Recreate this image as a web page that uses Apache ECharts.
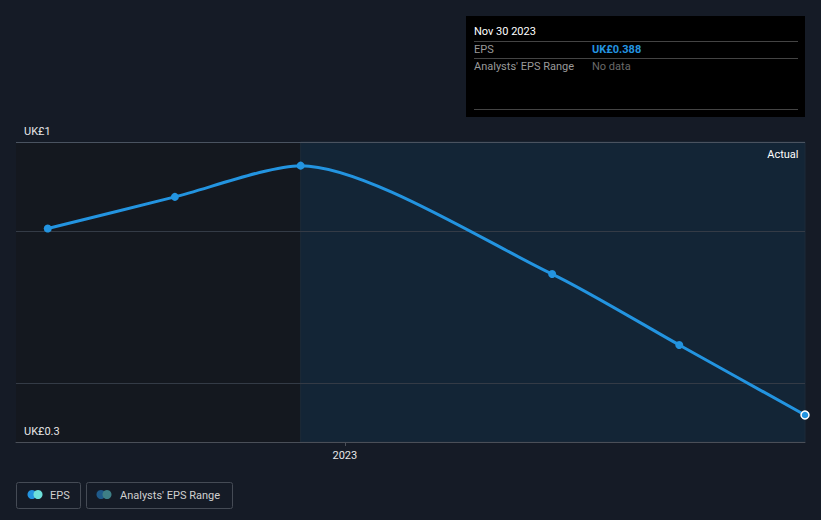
<!DOCTYPE html>
<html>
<head>
<meta charset="utf-8">
<script src="https://cdn.jsdelivr.net/npm/echarts@6/dist/echarts.min.js"></script>
<style>
  html, body { margin: 0; padding: 0; background: #151b26; }
  #main { width: 821px; height: 520px; }
</style>
</head>
<body>
<div id="main"></div>
<script>
// data
var dates = ['2022-05-31', '2022-08-31', '2022-11-30', '2023-05-31', '2023-08-31', '2023-11-30'];
var eps = [0.806, 0.877, 0.947, 0.704, 0.545, 0.388];
var yMin = 0.3275, yMax = 1.0;
var yTickLabels = ['UK£0.3', 'UK£1'];
var gridValues = [0.798, 0.462];
var xMin = '2022-05-08', xMax = '2023-11-30';
var yearTicks = ['2023-01-01'];
var actualFrom = '2022-11-30';

function ts(d) { return +new Date(d + 'T00:00:00Z'); }

var myChart = echarts.init(document.getElementById('main'), null, { renderer: 'svg' });

var seriesData = dates.map(function (d, i) {
  var item = { value: [ts(d), eps[i]] };
  if (i === dates.length - 1) {
    item.itemStyle = { borderColor: '#ffffff', borderWidth: 1.5 };
  }
  return item;
});

option = {
  backgroundColor: '#151b26',
  textStyle: { fontFamily: 'Roboto' },
  animation: false,
  grid: { left: 16, right: 16, top: 142, bottom: 78 },
  xAxis: {
    type: 'value',
    min: ts(xMin),
    max: ts(xMax),
    z: 10,
    axisLine: { lineStyle: { color: '#4a4f58', width: 1 } },
    axisTick: {
      show: true,
      length: 4,
      lineStyle: { color: '#4a4f58' },
      customValues: yearTicks.map(ts)
    },
    axisLabel: {
      color: '#e6e6e6',
      fontSize: 11,
      margin: 8,
      customValues: yearTicks.map(ts),
      formatter: function (v) { return String(new Date(v).getUTCFullYear()); }
    },
    splitLine: { show: false }
  },
  yAxis: {
    type: 'value',
    min: yMin,
    max: yMax,
    z: 10,
    axisLine: { show: false },
    axisTick: { show: false },
    splitLine: { show: false },
    axisLabel: {
      inside: true,
      color: '#e6e6e6',
      fontSize: 11,
      verticalAlign: 'bottom',
      margin: 8,
      padding: [0, 0, 5, 0],
      customValues: [yMin, yMax],
      formatter: function (v) {
        return Math.abs(v - yMin) < 1e-6 ? yTickLabels[0] : yTickLabels[1];
      }
    }
  },
  series: [{
    name: 'EPS',
    type: 'line',
    data: seriesData,
    smooth: 0.25,
    symbol: 'circle',
    symbolSize: 8,
    lineStyle: { color: '#2394e0', width: 3 },
    itemStyle: { color: '#2394e0' },
    z: 5,
    markArea: {
      silent: true,
      z: 1,
      label: {
        show: true,
        position: 'insideTopRight',
        color: '#ffffff',
        fontSize: 11,
        distance: 7,
        formatter: function (p) { return p.name; }
      },
      data: [
        [{ name: '', xAxis: ts(xMin), itemStyle: { color: '#14181f' } }, { xAxis: ts(actualFrom) }],
        [{
          name: 'Actual',
          xAxis: ts(actualFrom),
          itemStyle: { color: '#132536', borderColor: '#1c2a38', borderWidth: 1 }
        }, { xAxis: ts(xMax) }]
      ]
    },
    markLine: {
      silent: true,
      symbol: 'none',
      label: { show: false },
      lineStyle: { color: '#343b46', type: 'solid', width: 1 },
      data: [{ yAxis: yMax, lineStyle: { color: '#4a5360' } }].concat(gridValues.map(function (v) { return { yAxis: v }; }))
    }
  }],
  graphic: [
    // hover box
    { type: 'rect', shape: { x: 466, y: 16, width: 339, height: 101 }, style: { fill: '#000000' } },
    { type: 'text', x: 474, y: 31, style: { text: 'Nov 30 2023', fill: '#ffffff', font: '11px Roboto', textVerticalAlign: 'middle' } },
    { type: 'line', shape: { x1: 474, y1: 41.5, x2: 798, y2: 41.5 }, style: { stroke: '#444444', lineWidth: 1 } },
    { type: 'text', x: 474, y: 49, style: { text: 'EPS', fill: '#9a9a9a', font: '11px Roboto', textVerticalAlign: 'middle' } },
    { type: 'text', x: 592, y: 49, style: { text: 'UK£0.388', fill: '#2394e0', font: 'bold 11px Roboto', textVerticalAlign: 'middle' } },
    { type: 'line', shape: { x1: 474, y1: 58.5, x2: 798, y2: 58.5 }, style: { stroke: '#444444', lineWidth: 1 } },
    { type: 'text', x: 474, y: 66, style: { text: "Analysts' EPS Range", fill: '#9a9a9a', font: '11px Roboto', textVerticalAlign: 'middle' } },
    { type: 'text', x: 592, y: 66, style: { text: 'No data', fill: '#6a6a6a', font: '11px Roboto', textVerticalAlign: 'middle' } },
    { type: 'line', shape: { x1: 474, y1: 109.5, x2: 798, y2: 109.5 }, style: { stroke: '#444444', lineWidth: 1 } },
    // legend
    { type: 'rect', shape: { x: 16.5, y: 482.5, width: 64, height: 26, r: 2 }, style: { fill: 'none', stroke: '#454b55', lineWidth: 1 } },
    { type: 'circle', shape: { cx: 32, cy: 494.5, r: 4.5 }, style: { fill: '#2394e0' } },
    { type: 'circle', shape: { cx: 38, cy: 494.5, r: 4.5 }, style: { fill: '#6de0da' } },
    { type: 'text', x: 50, y: 495, style: { text: 'EPS', fill: '#d0d0d0', font: '11px Roboto', textVerticalAlign: 'middle' } },
    { type: 'rect', shape: { x: 86.5, y: 482.5, width: 146, height: 26, r: 2 }, style: { fill: 'none', stroke: '#454b55', lineWidth: 1 } },
    { type: 'circle', shape: { cx: 101, cy: 494.5, r: 4.5 }, style: { fill: '#1f5a8a' } },
    { type: 'circle', shape: { cx: 107, cy: 494.5, r: 4.5 }, style: { fill: '#3e7f86' } },
    { type: 'text', x: 120, y: 495, style: { text: "Analysts' EPS Range", fill: '#d0d0d0', font: '11px Roboto', textVerticalAlign: 'middle' } }
  ]
};

myChart.setOption(option);
</script>
</body>
</html>
